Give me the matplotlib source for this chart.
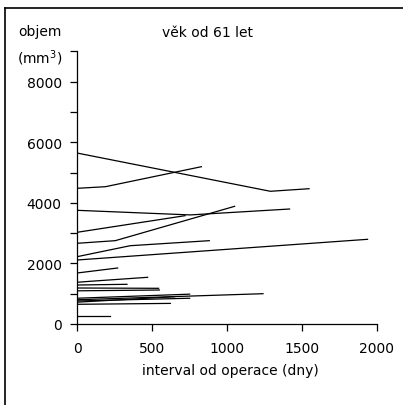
import matplotlib
matplotlib.use('Agg')
import matplotlib.pyplot as plt
from matplotlib.lines import Line2D

plt.rcParams['font.family'] = ['DejaVu Sans']

# each patient: days since operation, volume (mm3)
days = [
    [0, 1289, 1547],
    [0, 189, 829],
    [0, 755, 1417],
    [0, 720],
    [0, 255, 1051],
    [0, 355, 882],
    [0, 1937],
    [0, 271],
    [0, 90, 471],
    [0, 333],
    [0, 544],
    [0, 549],
    [0, 1240],
    [0, 751],
    [0, 751],
    [0, 622],
    [0, 650],
    [0, 217],
]
volume = [
    [5643, 4380, 4465],
    [4478, 4531, 5191],
    [3752, 3600, 3795],
    [3026, 3575],
    [2663, 2750, 3884],
    [2221, 2584, 2750],
    [2112, 2795],
    [1683, 1848],
    [1376, 1410, 1541],
    [1287, 1310],
    [1188, 1178],
    [1095, 1122],
    [800, 1000],
    [850, 985],
    [760, 850],
    [650, 680],
    [720, 900],
    [254, 254],
]

fig = plt.figure(figsize=(4.03, 4.06), dpi=100)
ax = fig.add_axes([77/403, 1-325/406, 300/403, (325-52.3)/406])

for d, v in zip(days, volume):
    ax.plot(d, v, color='black', lw=0.9)

ax.set_xlim(0, 2000)
ax.set_ylim(0, 9000)
ax.set_xticks([0, 500, 1000, 1500, 2000])
ax.set_yticks([0, 2000, 4000, 6000, 8000])
ax.set_yticks(range(1000, 9001, 2000), minor=True)
ax.tick_params(axis='both', which='both', direction='out', length=5, width=0.9,
               labelsize=10, pad=7)
ax.tick_params(axis='y', pad=6)
ax.spines['top'].set_visible(False)
ax.spines['right'].set_visible(False)
ax.spines['left'].set_linewidth(0.9)
ax.spines['bottom'].set_linewidth(0.9)

fig.text(208/403, 1-33/406, 'věk od 61 let', ha='center', va='center', fontsize=10)
fig.text(40/403, 1-32/406, 'objem', ha='center', va='center', fontsize=10)
fig.text(40/403, 1-58/406, '(mm$^3$)', ha='center', va='center', fontsize=10)
fig.text(230/403, 1-371/406, 'interval od operace (dny)', ha='center', va='center', fontsize=10)

# frame lines (left and top only)
fig.add_artist(Line2D([5/403, 5/403], [0, 1-9/406], transform=fig.transFigure, color='black', lw=1.2))
fig.add_artist(Line2D([5/403, 1], [1-9/406, 1-9/406], transform=fig.transFigure, color='black', lw=1.2))

fig.savefig('out.png', dpi=100)
